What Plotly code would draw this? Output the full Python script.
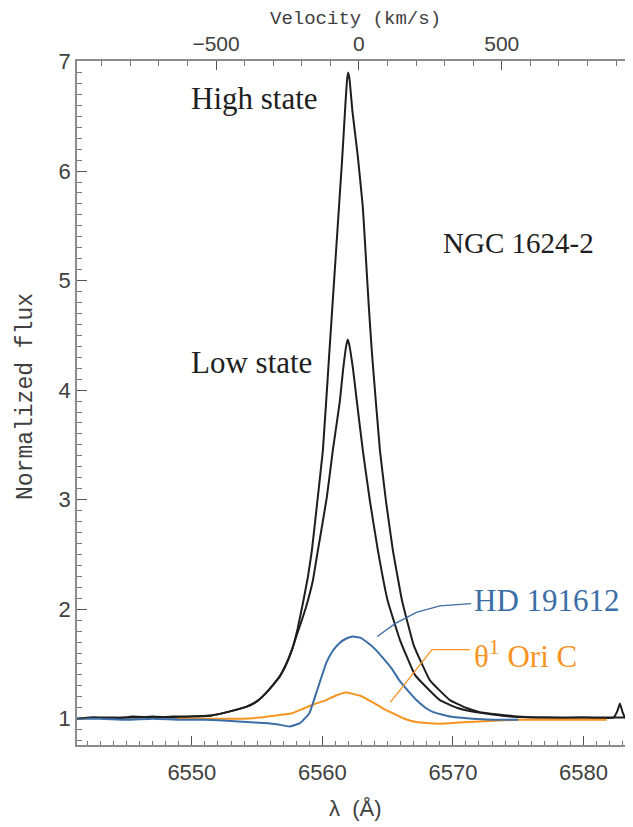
import plotly.graph_objects as go

# H-alpha rest wavelength and speed of light, for the velocity axis on top
LAMBDA0 = 6562.8
C_KMS = 299792.458

# NGC 1624-2, high state (wavelength in A, normalized flux)
high_wl = [6541.2, 6542.5, 6544.0, 6545.5, 6547.0, 6548.5, 6550.0, 6551.5, 6552.7,
           6554.2, 6555.0, 6555.8, 6556.7, 6557.2, 6557.7, 6558.1, 6558.5, 6558.9,
           6559.2, 6559.62, 6560.04, 6560.51, 6561.01, 6561.51, 6561.76, 6561.88,
           6561.97, 6562.08, 6562.3, 6562.72, 6563.1, 6563.33, 6563.56, 6563.79,
           6564.41, 6564.87, 6565.4, 6566.1, 6567.0, 6568.24, 6569.77, 6571.0,
           6572.07, 6574.9, 6577.0, 6580.0, 6582.3, 6582.6, 6582.8, 6583.0, 6583.2,
           6583.8]
high_flux = [1.00, 1.01, 1.00, 1.02, 1.01, 1.02, 1.02, 1.03, 1.06,
             1.11, 1.16, 1.25, 1.38, 1.49, 1.64, 1.82, 2.05, 2.30,
             2.54, 2.99, 3.45, 4.30, 5.20, 6.10, 6.60, 6.82,
             6.90, 6.84, 6.55, 6.13, 5.67, 5.22, 4.76, 4.35,
             3.45, 2.99, 2.54, 2.08, 1.67, 1.35, 1.17, 1.10,
             1.06, 1.02, 1.01, 1.01, 1.01, 1.07, 1.14, 1.06, 1.01,
             1.01]

# NGC 1624-2, low state
low_wl = [6541.2, 6542.5, 6544.0, 6545.5, 6547.0, 6548.5, 6550.0, 6551.5, 6552.7,
          6554.2, 6555.0, 6555.8, 6556.7, 6557.2, 6557.7, 6558.0, 6558.7, 6559.27,
          6559.66, 6560.34, 6560.8, 6561.34, 6561.6, 6561.85, 6561.95, 6562.05,
          6562.34, 6562.64, 6563.1, 6563.64, 6564.25, 6565.0, 6565.94, 6567.09,
          6568.2, 6569.0, 6570.3, 6571.7, 6574.4, 6577.0, 6580.0, 6583.8]
low_flux = [1.00, 1.01, 1.01, 1.01, 1.02, 1.01, 1.02, 1.03, 1.06,
            1.11, 1.16, 1.25, 1.38, 1.49, 1.64, 1.75, 2.00, 2.26,
            2.54, 3.02, 3.45, 3.90, 4.20, 4.42, 4.46, 4.42,
            4.20, 3.90, 3.45, 2.99, 2.54, 2.08, 1.72, 1.40,
            1.26, 1.17, 1.10, 1.06, 1.02, 1.01, 1.01, 1.01]

# HD 191612
hd_wl = [6541.2, 6543.0, 6545.0, 6547.0, 6549.0, 6551.0, 6553.0, 6554.2, 6555.5,
         6556.5, 6557.5, 6558.3, 6559.0, 6559.6, 6560.3, 6560.8, 6561.3, 6561.8,
         6562.3, 6562.9, 6563.4, 6564.0, 6564.6, 6565.3, 6565.9, 6566.6, 6567.2,
         6567.9, 6568.5, 6569.8, 6571.5, 6573.0, 6575.0]
hd_flux = [1.00, 1.00, 0.99, 1.00, 0.99, 0.99, 0.98, 0.97, 0.96,
           0.95, 0.93, 0.96, 1.05, 1.26, 1.51, 1.62, 1.69, 1.73,
           1.75, 1.74, 1.70, 1.64, 1.56, 1.46, 1.35, 1.25, 1.17,
           1.10, 1.06, 1.02, 1.00, 0.99, 0.99]

# theta1 Ori C
ori_wl = [6548.9, 6550.5, 6552.2, 6553.8, 6555.2, 6556.5, 6557.7, 6558.5, 6559.3,
          6560.3, 6561.0, 6561.8, 6562.9, 6564.0, 6564.7, 6565.4, 6566.3, 6567.2,
          6568.0, 6569.0, 6570.5, 6572.8, 6575.0, 6577.4, 6580.0, 6581.8]
ori_flux = [1.00, 1.00, 1.00, 1.00, 1.01, 1.03, 1.05, 1.09, 1.13,
            1.17, 1.21, 1.24, 1.21, 1.14, 1.09, 1.05, 1.00, 0.97,
            0.96, 0.955, 0.965, 0.98, 0.99, 0.99, 0.99, 0.99]

x_range = [6541.2, 6583.8]
y_range = [0.76, 7.005]
vel_range = [C_KMS * (w - LAMBDA0) / LAMBDA0 for w in x_range]
vel_ticks = [-500, 0, 500]
vel_labels = ["\u2212500", "0", "500"]

BLACK = "#1e1e1e"
BLUE = "#3b6ea6"
ORANGE = "#f7931e"
AXIS_GREY = "#8c8c8c"
TEXT_GREY = "#404040"
SERIF = "Liberation Serif"

fig = go.Figure()

smooth = dict(shape="spline", smoothing=0.3)
fig.add_trace(go.Scatter(x=high_wl, y=high_flux, mode="lines",
                         line=dict(color=BLACK, width=2, **smooth), name="High state"))
fig.add_trace(go.Scatter(x=low_wl, y=low_flux, mode="lines",
                         line=dict(color=BLACK, width=2, **smooth), name="Low state"))
fig.add_trace(go.Scatter(x=ori_wl, y=ori_flux, mode="lines",
                         line=dict(color=ORANGE, width=2, **smooth), name="θ1 Ori C"))
fig.add_trace(go.Scatter(x=hd_wl, y=hd_flux, mode="lines",
                         line=dict(color=BLUE, width=2, **smooth), name="HD 191612"))
# invisible trace so the velocity axis gets its own subplot
fig.add_trace(go.Scatter(x=vel_range, y=y_range, mode="none", xaxis="x2",
                         hoverinfo="skip", showlegend=False))

# text labels inside the plot
labels = [
    ("High state", 6554.8, 6.66, "center", BLACK, 31),
    ("NGC 1624-2", 6575.0, 5.34, "center", BLACK, 29),
    ("Low state", 6554.6, 4.25, "center", BLACK, 31),
    ("HD 191612", 6571.5, 2.08, "left", BLUE, 31),
    ("θ<sup>1</sup> Ori C", 6571.5, 1.59, "left", ORANGE, 31),
]
for text, x, y, anchor, color, size in labels:
    fig.add_annotation(x=x, y=y, xref="x", yref="y", text=text, showarrow=False,
                       xanchor=anchor, yanchor="middle",
                       font=dict(family=SERIF, size=size, color=color))

# axis titles, placed by hand around the frame
title_font = dict(family="Liberation Mono", size=23, color=TEXT_GREY)
fig.add_annotation(x=0.5, y=1, xref="paper", yref="paper", yshift=42,
                   text="Velocity (km/s)", showarrow=False, yanchor="middle",
                   font=dict(family="Liberation Mono", size=19, color=TEXT_GREY))
fig.add_annotation(x=0, y=0.5, xref="paper", yref="paper", xshift=-51, yshift=6,
                   text="Normalized flux", showarrow=False, textangle=-90,
                   xanchor="center", yanchor="middle", font=title_font)
fig.add_annotation(x=0.5, y=0, xref="paper", yref="paper", yshift=-63,
                   text="λ  (Å)", showarrow=False, yanchor="middle",
                   font=dict(family="Liberation Sans", size=22, color=TEXT_GREY))

# pointer lines from the labels to the curves
fig.add_shape(type="path", xref="x", yref="y",
              path="M 6571.4 2.05 L 6569.0 2.03 L 6567.2 1.97 L 6565.6 1.87 L 6564.2 1.75",
              line=dict(color=BLUE, width=1.3))
fig.add_shape(type="path", xref="x", yref="y",
              path="M 6571.3 1.63 L 6568.4 1.63 L 6565.2 1.15",
              line=dict(color=ORANGE, width=1.3))

tick_font = dict(family="Liberation Sans", size=22, color=TEXT_GREY)

# the page body has an 8px margin, so the figure is shrunk by that much
fig.update_layout(
    width=625, height=819,
    margin=dict(l=69, r=0, t=53, b=82),
    paper_bgcolor="white", plot_bgcolor="white",
    showlegend=False,
    xaxis=dict(
        range=x_range, tickvals=[6550, 6560, 6570, 6580],
        ticks="inside", ticklen=9, tickwidth=1, tickcolor="#555555",
        minor=dict(dtick=1, tick0=6540, ticks="inside", ticklen=4,
                   tickcolor="#777777"),
        showline=True, linecolor=AXIS_GREY, linewidth=1.5, mirror=False,
        showgrid=False, zeroline=False, tickfont=tick_font, automargin=False,
        ticklabelstandoff=7,
    ),
    xaxis2=dict(
        range=vel_range, overlaying="x", side="top", anchor="y",
        tickvals=vel_ticks, ticktext=vel_labels,
        ticks="inside", ticklen=9, tickwidth=1, tickcolor="#555555",
        minor=dict(dtick=100, tick0=0, ticks="inside", ticklen=5,
                   tickcolor="#777777"),
        showline=True, linecolor=AXIS_GREY, linewidth=1.5, automargin=False,
        showgrid=False, zeroline=False,
        tickfont=dict(family="Liberation Sans", size=21, color=TEXT_GREY),
    ),
    yaxis=dict(
        range=y_range, dtick=1, tick0=0,
        ticks="inside", ticklen=10, tickwidth=1, tickcolor="#555555",
        minor=dict(dtick=0.1, tick0=0, ticks="inside", ticklen=5,
                   tickcolor="#777777"),
        showline=True, linecolor=AXIS_GREY, linewidth=1.5, automargin=False,
        showgrid=False, zeroline=False, tickfont=tick_font,
    ),
)

fig.write_html("out.html")
